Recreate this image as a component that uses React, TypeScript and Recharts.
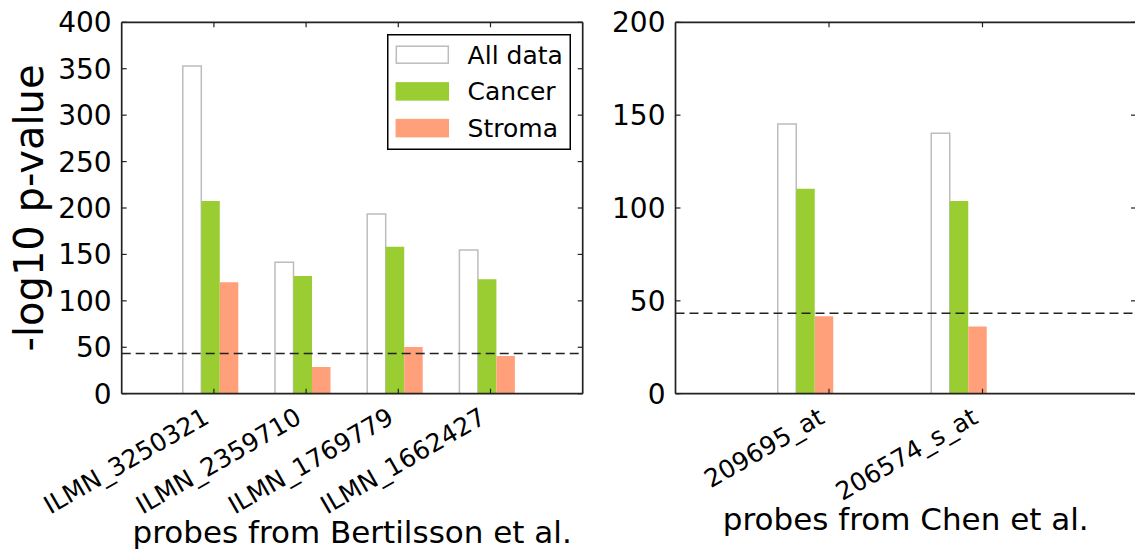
import { Bar, BarChart, Legend, ReferenceLine, XAxis, YAxis } from "recharts";

const FONT = "'DejaVu Sans', 'Bitstream Vera Sans', sans-serif";
const SPINE = "#222";

// Bertilsson et al. probes (left panel)
const bertilssonProbes = ["ILMN_3250321", "ILMN_2359710", "ILMN_1769779", "ILMN_1662427"];
const bertilssonAll = [353, 141.5, 193.5, 154.8];
const bertilssonCancer = [207.5, 126.8, 158.3, 123.2];
const bertilssonStroma = [120, 28.7, 50.3, 40.6];

// Chen et al. probes (right panel)
const chenProbes = ["209695_at", "206574_s_at"];
const chenAll = [145.3, 140.2];
const chenCancer = [110.4, 103.8];
const chenStroma = [41.7, 36.2];

const leftTicks = [0, 50, 100, 150, 200, 250, 300, 350, 400];
const rightTicks = [0, 50, 100, 150, 200];
const threshold = 43.3;

const seriesKeys = ["all", "cancer", "stroma"];
const seriesNames = ["All data", "Cancer", "Stroma"];
const seriesFills = ["#ffffff", "#9acd32", "#ffa07a"];
const seriesStrokes = ["#bcbcbc", "none", "none"];

type Row = { probe: string; all: number; cancer: number; stroma: number };

const toRows = (probes: string[], all: number[], cancer: number[], stroma: number[]): Row[] =>
  probes.map((probe, i) => ({ probe, all: all[i], cancer: cancer[i], stroma: stroma[i] }));

const bertilssonRows = toRows(bertilssonProbes, bertilssonAll, bertilssonCancer, bertilssonStroma);
const chenRows = toRows(chenProbes, chenAll, chenCancer, chenStroma);

function SlantTick(props: any) {
  const { x, y, payload } = props;
  return (
    <g transform={`translate(${x - 3},${y})`}>
      <text transform="rotate(-30)" textAnchor="end" fontSize={25} fontFamily={FONT} fill="#000">
        {payload.value}
      </text>
    </g>
  );
}

const NoTick = () => <g />;

function LegendBox(props: any) {
  const items = props.payload ?? [];
  return (
    <svg width={184} height={116} style={{ display: "block" }}>
      <rect x={0.75} y={0.75} width={182.5} height={114.5} fill="#fff" stroke="#000" strokeWidth={1.5} />
      {items.map((it: any, i: number) => {
        const k = seriesKeys.indexOf(String(it.dataKey));
        const cy = 20.7 + i * 36.7;
        return (
          <g key={String(it.dataKey)}>
            <rect
              x={9.3}
              y={cy - 8.5}
              width={52}
              height={17}
              fill={seriesFills[k]}
              stroke={seriesStrokes[k] === "none" ? seriesFills[k] : seriesStrokes[k]}
              strokeWidth={1.5}
            />
            <text x={80.6} y={cy + 9} fontSize={25} fontFamily={FONT} fill="#000">
              {it.value}
            </text>
          </g>
        );
      })}
    </svg>
  );
}

type PanelProps = {
  rows: Row[];
  left: number;
  width: number;
  yMax: number;
  yTicks: number[];
  yAxisWidth: number;
  marginRight: number;
  tickPad: number;
  barPad: { left: number; right: number };
  xTitle: string;
  xTitleDrop: number;
  yTitle?: string;
  legend?: boolean;
};

function Panel(p: PanelProps) {
  const XTitle = (lp: any) => {
    const vb = lp.viewBox;
    return (
      <text x={vb.x + vb.width / 2} y={vb.y + p.xTitleDrop} textAnchor="middle" fontSize={31} fontFamily={FONT} fill="#000">
        {p.xTitle}
      </text>
    );
  };
  const YTitle = (lp: any) => {
    const vb = lp.viewBox;
    const cx = vb.x + 43;
    const cy = vb.y + vb.height / 2;
    return (
      <text x={cx} y={cy} transform={`rotate(-90 ${cx} ${cy})`} textAnchor="middle" fontSize={40} fontFamily={FONT} fill="#000">
        {p.yTitle}
      </text>
    );
  };
  const axisLine = { stroke: SPINE, strokeWidth: 1.7 };
  const tickLine = { stroke: SPINE, strokeWidth: 1.2 };
  return (
    <div style={{ position: "absolute", left: p.left, top: 0 }}>
      <BarChart
        width={p.width}
        height={551}
        data={p.rows}
        barGap={0}
        barSize={18.5}
        margin={{ top: 21.3, right: p.marginRight, bottom: 0, left: 0 }}
      >
        <XAxis
          xAxisId="x"
          dataKey="probe"
          height={157.3}
          padding={{ left: p.tickPad, right: p.tickPad }}
          interval={0}
          tickSize={-5}
          tickMargin={33.3}
          axisLine={axisLine}
          tickLine={tickLine}
          tick={SlantTick}
          label={XTitle}
        />
        <XAxis xAxisId="bars" dataKey="probe" hide height={0} padding={p.barPad} />
        <XAxis
          xAxisId="top"
          orientation="top"
          dataKey="probe"
          height={1}
          padding={{ left: p.tickPad, right: p.tickPad }}
          interval={0}
          tickSize={-5}
          axisLine={axisLine}
          tickLine={tickLine}
          tick={NoTick}
        />
        <YAxis
          yAxisId="y"
          width={p.yAxisWidth}
          domain={[0, p.yMax]}
          ticks={p.yTicks}
          allowDataOverflow
          interval={0}
          tickSize={-5}
          tickMargin={15}
          axisLine={axisLine}
          tickLine={tickLine}
          tick={{ fill: "#000", fontSize: 28, fontFamily: FONT }}
          label={p.yTitle ? YTitle : undefined}
        />
        <YAxis
          yAxisId="yr"
          orientation="right"
          width={1}
          domain={[0, p.yMax]}
          ticks={p.yTicks}
          allowDataOverflow
          interval={0}
          tickSize={-5}
          axisLine={axisLine}
          tickLine={tickLine}
          tick={NoTick}
        />
        {seriesKeys.map((key, i) => (
          <Bar
            key={key}
            xAxisId="bars"
            yAxisId="y"
            dataKey={key}
            name={seriesNames[i]}
            fill={seriesFills[i]}
            stroke={seriesStrokes[i]}
            strokeWidth={seriesStrokes[i] === "none" ? 0 : 1.5}
            isAnimationActive={false}
          />
        ))}
        <ReferenceLine
          xAxisId="x"
          yAxisId="y"
          y={threshold}
          stroke="#222"
          strokeWidth={1.6}
          strokeDasharray="9 5"
        />
        {p.legend && (
          <Legend
            content={LegendBox}
            layout="horizontal"
            verticalAlign="middle"
            align="center"
            wrapperStyle={{ left: 386.7, top: 34.3, width: 184, height: 116 }}
          />
        )}
      </BarChart>
    </div>
  );
}

export default function App() {
  return (
    <div
      style={{
        position: "fixed",
        left: 0,
        top: 0,
        width: 1135,
        height: 551,
        overflow: "hidden",
        background: "#fff",
      }}
    >
      <Panel
        rows={bertilssonRows}
        left={0}
        width={600}
        yMax={400}
        yTicks={leftTicks}
        yAxisWidth={121.7}
        marginRight={16.3}
        tickPad={46.1}
        barPad={{ left: 43.1, right: 49.1 }}
        xTitle="probes from Bertilsson et al."
        xTitleDrop={149.3}
        yTitle="-log10 p-value"
        legend
      />
      <Panel
        rows={chenRows}
        left={600}
        width={560}
        yMax={200}
        yTicks={rightTicks}
        yAxisWidth={75.5}
        marginRight={23}
        tickPad={76.75}
        barPad={{ left: 53.25, right: 100.25 }}
        xTitle="probes from Chen et al."
        xTitleDrop={136.3}
      />
    </div>
  );
}
